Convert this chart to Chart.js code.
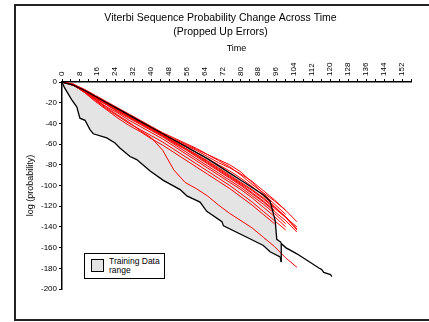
<!DOCTYPE html>
<html>
<head>
<meta charset="utf-8">
<script src="https://cdn.jsdelivr.net/npm/chart.js@4/dist/chart.umd.min.js"></script>
<style>
  html, body { margin: 0; padding: 0; background: #fff; width: 429px; height: 322px; overflow: hidden; }
  #wrap { position: relative; width: 429px; height: 322px; overflow: hidden; }
  #frame { position: absolute; left: 14px; top: 4px; width: 430px; height: 317px; box-sizing: border-box; border: 2px solid #222; border-right: none; }
  #c { position: absolute; left: 0; top: 0; }
  #legend { position: absolute; left: 84px; top: 253px; width: 81px; height: 26px; box-sizing: border-box; border: 1px solid #000; background: #fff;
            font-family: "Liberation Sans", Arial, sans-serif; font-size: 8.5px; line-height: 9px; color: #000; }
  #legend .sw { position: absolute; left: 6px; top: 5px; width: 13px; height: 13px; box-sizing: border-box; border: 1px solid #000; background: #e4e4e4; }
  #legend .tx { position: absolute; left: 24px; top: 3px; width: 56px; }
</style>
</head>
<body>
<div id="wrap">
<div id="frame"></div>
<canvas id="c" width="429" height="322"></canvas>
<div id="legend"><div class="sw"></div><div class="tx">Training Data range</div></div>
</div>
<script>
// ---- data ----
const chartTitle = ["Viterbi Sequence Probability Change Across Time", "(Propped Up Errors)"];
const xTitle = "Time";
const yTitle = "log (probability)";
const legendLabel = "Training Data range";

// Training data range: upper (best) boundary
const upperT = [0, 5, 10, 15, 20, 25, 30, 35, 40, 45, 50, 55, 60, 65, 70, 75, 80, 85, 90, 93, 95.3, 96, 98];
const upperV = [0, -3, -8, -14, -20, -26, -32, -38, -44, -50, -56, -62, -68, -74, -81, -88, -95, -102, -109, -115, -134, -152, -155];
// Training data range: lower (worst) boundary
const lowerT = [0, 1, 2.1, 4.3, 6.6, 8, 10.3, 12.5, 14, 20, 23.7, 26, 30.4, 33.4, 39.4, 45.3, 52.8, 55.8, 61.7, 64.7, 71.5, 72.2, 82.6, 90, 93, 97.5, 98];
const lowerV = [0, -5, -9, -17, -24, -35, -37, -46, -50, -54, -59, -64, -72, -75, -86, -95, -104, -110, -116, -125, -135, -139, -150, -158, -164, -169, -174];
// remaining training sequence after the range closes
const tailT = [98, 98, 100, 105, 110, 115, 116, 117, 120, 120.6];
const tailV = [-174, -156, -160, -166, -173, -180, -181, -184, -186, -188];

// Test sequences (red), values at timeGrid
const timeGrid = [0, 5, 10, 15, 20, 25, 30, 35, 40, 45, 50, 55, 60, 65, 70, 75, 80, 85, 90, 95, 100, 105];
const runA = [0, -3, -8, -14, -20, -26, -32, -38, -44, -50, -55, -60, -65, -70, -76, -82, -90, -99, -107, -115, -124];
const runB = [0, -2, -7, -13, -19, -25, -31, -37, -43, -49, -54, -59, -64, -70, -75, -80, -87, -97, -108, -118, -128];
const runC = [0, -3, -8, -14, -20, -26, -32, -38, -44, -50, -56, -61, -66, -72, -78, -83, -89, -96, -105, -114, -124, -135];
const runD = [0, -3, -9, -15, -21, -27, -33, -39, -45, -51, -58, -64, -70, -77, -84, -91, -98, -105, -113, -122, -131, -140];
const runE = [0, -3, -9, -15, -21, -27, -34, -40, -46, -52, -58, -64, -70, -76, -83, -90, -97, -104, -112, -121, -130, -142];
const runF = [0, -2, -8, -14, -20, -26, -32, -38, -44, -50, -56, -62, -68, -74, -80, -86, -93, -101, -110, -120, -131, -143];
const runG = [0, -3, -9, -16, -22, -28, -34, -40, -46, -52, -59, -65, -72, -79, -86, -93, -100, -108, -116, -125, -134, -145];
const runH = [0, -3, -9, -16, -22, -29, -35, -41, -47, -53, -60, -67, -74, -81, -88, -95, -102, -110, -118, -127, -137];
const runI = [0, -3, -9, -15, -21, -27, -33, -39, -45, -51, -57, -64, -71, -78, -85, -92, -99, -107, -115, -124];
const runJ = [0, -3, -9, -17, -24, -30, -37, -43, -49, -55, -62, -69, -76, -83, -90, -97, -104, -112, -121, -130, -140];
const runK = [0, -3, -10, -18, -26, -33, -40, -46, -52, -58, -65, -72, -79, -86, -93, -100, -108, -116, -125, -134, -143];
const runL = [0, -3, -10, -19, -27, -35, -42, -48, -55, -61, -68, -75, -82, -89, -96, -103, -111, -119, -128, -137];
const runM = [0, -3, -9, -17, -25, -32, -39, -47, -54, -66, -85, -97, -103, -110, -119, -127, -134, -141, -150, -159, -170, -179];
const testRuns = [runA, runB, runC, runD, runE, runF, runG, runH, runI, runJ, runK, runL, runM];

// axes
const xMin = 0, xMax = 156, xStep = 4, xLabelEvery = 8;
const yMin = -200, yMax = 0, yStep = 20;

// ---- build chart ----
const pts = (ts, vs) => vs.map((v, i) => ({ x: ts[i], y: v }));
const FONT = '"Liberation Sans", Arial, sans-serif';

const datasets = [];
datasets.push({ label: 'upper', data: pts(upperT, upperV), borderColor: '#000', borderWidth: 1.3, pointRadius: 0, fill: false, order: 1, tension: 0 });
datasets.push({ label: legendLabel, data: pts(lowerT, lowerV), borderColor: '#000', borderWidth: 1.3, pointRadius: 0,
  fill: { target: 0 }, backgroundColor: '#e4e4e4', order: 20, tension: 0 });
datasets.push({ label: 'tail', data: pts(tailT, tailV), borderColor: '#000', borderWidth: 1.3, pointRadius: 0, fill: false, order: 1, tension: 0 });
testRuns.forEach((r, i) => datasets.push({ label: 'run' + i, data: pts(timeGrid, r), borderColor: '#ff0000', borderWidth: 1,
  pointRadius: 0, fill: false, order: 5, tension: 0 }));

new Chart(document.getElementById('c'), {
  type: 'line',
  data: { datasets },
  options: {
    responsive: false, animation: false, devicePixelRatio: 1,
    layout: { padding: { left: 30, right: 18, top: 0, bottom: 33 } },
    plugins: {
      legend: { display: false },
      tooltip: { enabled: false },
      title: { display: true, text: chartTitle, color: '#000', font: { family: FONT, size: 10.5, weight: 'normal', lineHeight: 14 / 10.5 },
        padding: { top: 11, bottom: 0 } }
    },
    scales: {
      x: {
        type: 'linear', position: 'top', min: xMin, max: xMax,
        afterFit: (s) => { s.height = 43; },
        border: { color: '#000', width: 1.5 },
        grid: { drawOnChartArea: false, drawTicks: true, tickLength: 3, color: '#000' },
        ticks: { stepSize: xStep, autoSkip: false, minRotation: 90, maxRotation: 90, padding: 3, labelOffset: 9, color: '#000',
          font: { family: FONT, size: 8 }, callback: (v) => (v % xLabelEvery === 0 ? String(v) : '') },
        title: { display: true, text: xTitle, color: '#000', font: { family: FONT, size: 9 }, padding: { top: 4, bottom: 0 } }
      },
      y: {
        type: 'linear', min: yMin, max: yMax,
        afterFit: (s) => { s.width = 32; },
        border: { color: '#000', width: 1.5 },
        grid: { drawOnChartArea: false, drawTicks: true, tickLength: 3, color: '#000' },
        ticks: { stepSize: yStep, padding: 2, color: '#000', font: { family: FONT, size: 8 } },
        title: { display: true, text: yTitle, color: '#000', font: { family: FONT, size: 9, lineHeight: 1 }, padding: { top: -4, bottom: 0 } }
      }
    }
  }
});
</script>
</body>
</html>
